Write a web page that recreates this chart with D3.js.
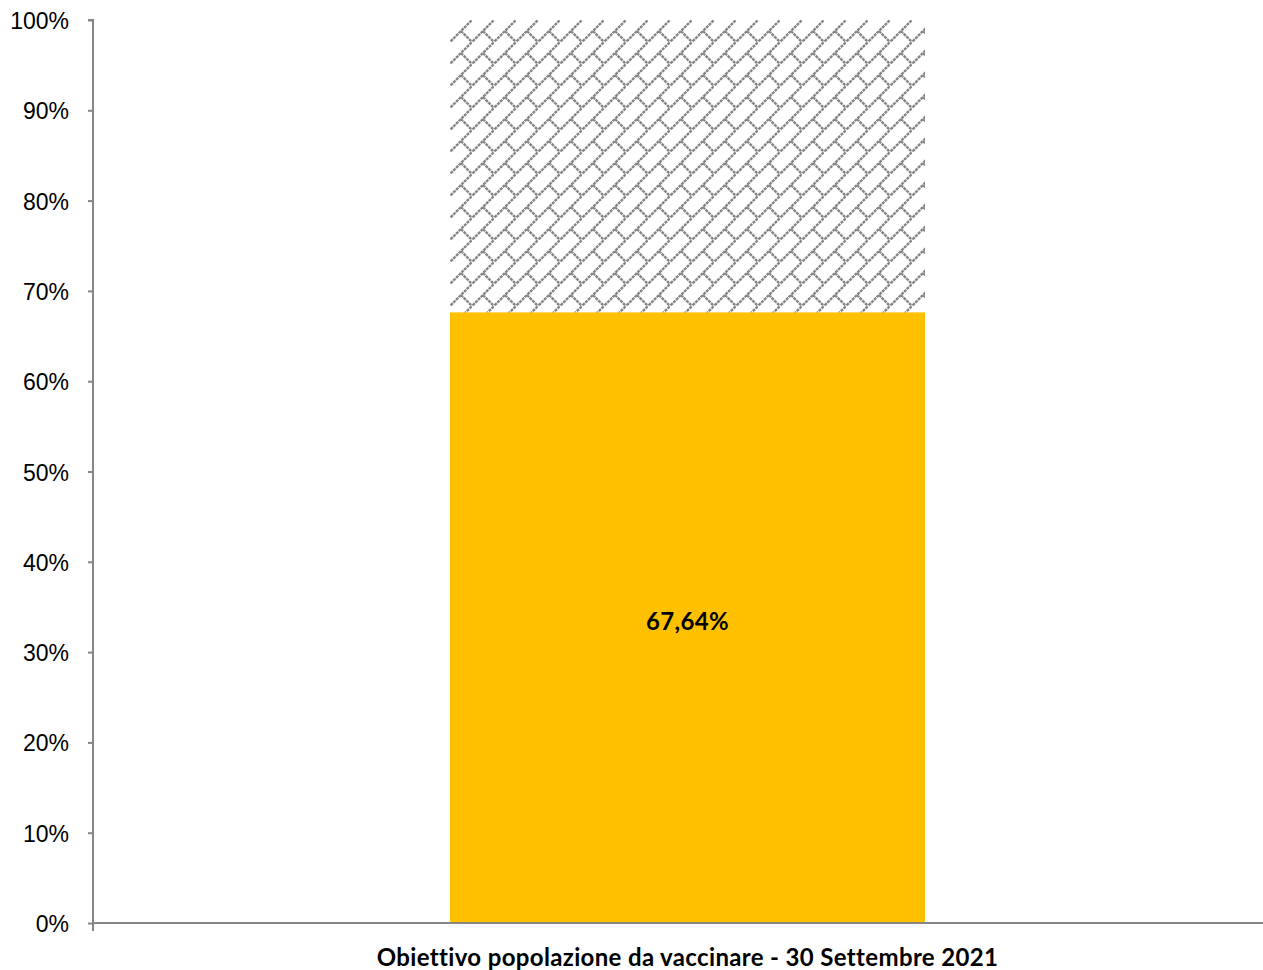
<!DOCTYPE html>
<html>
<head>
<meta charset="utf-8">
<script src="https://cdn.jsdelivr.net/npm/d3@7"></script>
<style>
  body { margin: 0; background: #fff; }
  svg { display: block; font-family: Lato, "Open Sans", sans-serif; }
</style>
</head>
<body>
<div id="chart"></div>
<script>
const categories = ["Obiettivo popolazione da vaccinare - 30 Settembre 2021"];
const vaccinated = [67.64];
const remaining = [32.36];
const yTicks = [0, 10, 20, 30, 40, 50, 60, 70, 80, 90, 100];

const width = 1263;
const height = 970;
const plotLeft = 93, plotTop = 20, plotBottom = 923;

const svg = d3.select("#chart")
    .append("svg")
    .attr("width", width)
    .attr("height", height);

// diagonal brick pattern for the remaining part
const tile = 22;
const defs = svg.append("defs");
const pat = defs.append("pattern")
    .attr("id", "brick")
    .attr("patternUnits", "userSpaceOnUse")
    .attr("x", 450)
    .attr("y", 20)
    .attr("width", tile)
    .attr("height", tile);
pat.append("rect").attr("width", tile).attr("height", tile).attr("fill", "#fff");
pat.append("path")
    .attr("d", "M-2," + (tile + 2) + " L" + (tile + 2) + ",-2 M" + tile / 2 + "," + tile / 2 + " L" + tile + "," + tile +
        " M" + (-tile / 2) + "," + tile / 2 + " L0," + tile)
    .attr("stroke", "#858585")
    .attr("stroke-width", 2.4)
    .attr("stroke-dasharray", "3,0.8")
    .attr("fill", "none");

const x = d3.scaleBand()
    .domain(categories)
    .range([plotLeft, 1282])
    .paddingInner(0)
    .paddingOuter(0.7516);

const y = d3.scaleLinear()
    .domain([0, 100])
    .range([plotBottom, plotTop]);

// stacked bars
svg.selectAll(".vax")
    .data(categories)
    .enter()
    .append("rect")
    .attr("class", "vax")
    .attr("x", d => x(d))
    .attr("width", x.bandwidth())
    .attr("y", (d, i) => y(vaccinated[i]))
    .attr("height", (d, i) => y(0) - y(vaccinated[i]))
    .attr("fill", "#ffc000");

svg.selectAll(".rem")
    .data(categories)
    .enter()
    .append("rect")
    .attr("class", "rem")
    .attr("x", d => x(d))
    .attr("width", x.bandwidth())
    .attr("y", (d, i) => y(vaccinated[i] + remaining[i]))
    .attr("height", (d, i) => y(vaccinated[i]) - y(vaccinated[i] + remaining[i]))
    .attr("fill", "url(#brick)");

// data label
svg.selectAll(".lbl")
    .data(categories)
    .enter()
    .append("text")
    .attr("class", "lbl")
    .attr("x", d => x(d) + x.bandwidth() / 2)
    .attr("y", (d, i) => y(vaccinated[i] / 2) + 12)
    .attr("text-anchor", "middle")
    .style("font-weight", "bold")
    .style("font-size", "24px")
    .style("letter-spacing", "0.3px")
    .style("fill", "#000")
    .text((d, i) => vaccinated[i].toFixed(2).replace(".", ",") + "%");

// y axis
const yAxis = d3.axisLeft(y)
    .tickValues(yTicks)
    .tickFormat(d => d + "%")
    .tickSize(5)
    .tickPadding(19);
const gy = svg.append("g")
    .attr("transform", "translate(" + plotLeft + ",0)")
    .call(yAxis);
gy.select(".domain").attr("stroke", "#868686").attr("stroke-width", 2).attr("d", "M-5," + plotTop + "H0V" + plotBottom);
gy.selectAll(".tick line").attr("stroke", "#868686").attr("stroke-width", 2);
gy.selectAll(".tick text").style("font-size", "23px").style("fill", "#000").attr("dy", "0.37em");

// x axis
svg.append("line")
    .attr("x1", plotLeft).attr("x2", width)
    .attr("y1", plotBottom).attr("y2", plotBottom)
    .attr("stroke", "#868686").attr("stroke-width", 2);
svg.append("line")
    .attr("x1", plotLeft).attr("x2", plotLeft)
    .attr("y1", plotBottom).attr("y2", plotBottom + 8)
    .attr("stroke", "#868686").attr("stroke-width", 2);

svg.selectAll(".xlbl")
    .data(categories)
    .enter()
    .append("text")
    .attr("class", "xlbl")
    .attr("x", d => x(d) + x.bandwidth() / 2)
    .attr("y", 966)
    .attr("text-anchor", "middle")
    .style("font-weight", "bold")
    .style("font-size", "24px")
    .style("letter-spacing", "0.35px")
    .style("fill", "#000")
    .text(d => d);
</script>
</body>
</html>
